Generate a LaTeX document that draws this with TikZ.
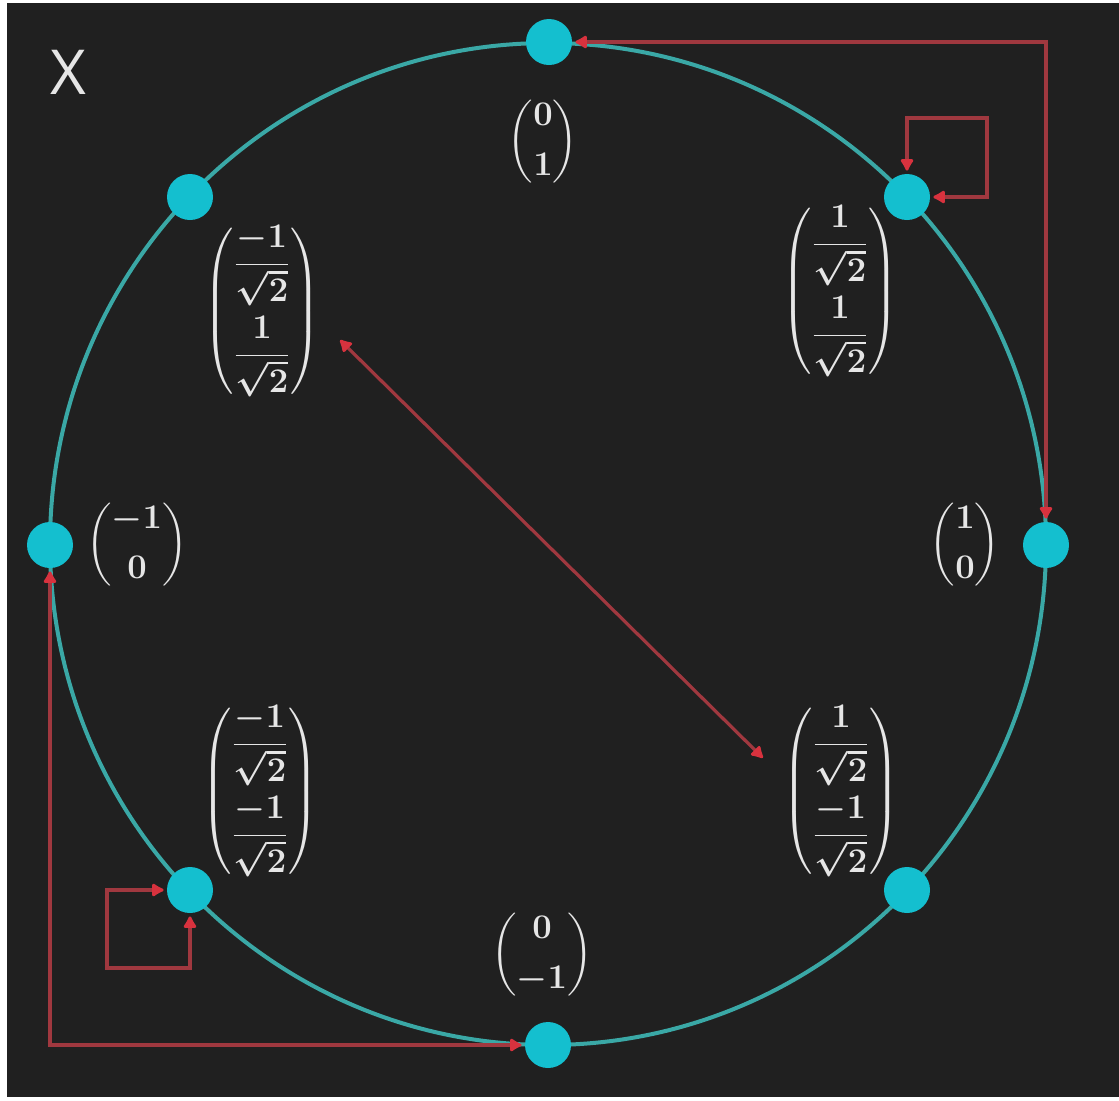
\documentclass[tikz,border=0pt]{standalone}
\usepackage{amsmath}
\usepackage{fontspec}
\usetikzlibrary{arrows.meta}
\newfontfamily\xfont{Open Sans}
\definecolor{bgdark}{HTML}{202020}
\definecolor{ringcol}{HTML}{3AA8A6}
\definecolor{dotcol}{HTML}{14BFCF}
\definecolor{redline}{HTML}{A0383F}
\definecolor{redtip}{HTML}{D8323E}
\definecolor{txtcol}{HTML}{E6E6E6}
\newcommand{\rowgap}{\\ \noalign{\vskip 5pt}}
\begin{document}
\begin{tikzpicture}[x=0.5pt,y=-0.5pt,
  dot/.style={circle,fill=dotcol,draw=none,minimum size=23pt,inner sep=0pt},
  vec/.style={text=txtcol,inner sep=0pt,font=\fontsize{17}{20}\selectfont\boldmath},
  fvec/.style={text=txtcol,inner sep=0pt,font=\fontsize{16.5}{20}\selectfont\boldmath},
  rarr/.style={draw=redline,line width=1.6pt,
    {Latex[length=7pt,width=8pt,round,color=redtip]}-{Latex[length=7pt,width=8pt,round,color=redtip]},
    shorten <=1.5pt,shorten >=1.5pt}]
\fill[white] (0,0) rectangle (1119,1100);
\fill[bgdark] (7,3) rectangle (1119,1097);
\useasboundingbox (0,0) rectangle (1119,1100);

% ring
\draw[ringcol,line width=2pt] (548,544) ellipse [x radius=249pt,y radius=250.5pt];

% dots
\node[dot] (n0) at (549,42) {};
\node[dot] (ntr) at (907,197) {};
\node[dot] (nr) at (1046,545) {};
\node[dot] (nbr) at (907,890) {};
\node[dot] (nb) at (548,1045) {};
\node[dot] (nbl) at (190,890) {};
\node[dot] (nl) at (50,545) {};
\node[dot] (ntl) at (190,197) {};

% title
\node[text=txtcol,font=\xfont\fontsize{31}{36}\selectfont,inner sep=0pt] (title) at (68,72) {X};

% labels
\node[vec] (l0) at (543,142) {$\begin{pmatrix}0\\[5pt]1\end{pmatrix}$};
\node[vec] (lr) at (965,545) {$\begin{pmatrix}1\\[5pt]0\end{pmatrix}$};
\node[vec] (ll) at (137,545) {$\begin{pmatrix}-1\\[5pt]0\end{pmatrix}$};
\node[vec] (lb) at (542,955) {$\begin{pmatrix}0\\[5pt]-1\end{pmatrix}$};
\node[fvec] (ltr) at (840,291) {$\begin{pmatrix}\dfrac{1}{\sqrt{2}}\rowgap\dfrac{1}{\sqrt{2}}\end{pmatrix}$};
\node[fvec] (ltl) at (262,311) {$\begin{pmatrix}\dfrac{-1}{\sqrt{2}}\rowgap\dfrac{1}{\sqrt{2}}\end{pmatrix}$};
\node[fvec] (lbl) at (260,791) {$\begin{pmatrix}\dfrac{-1}{\sqrt{2}}\rowgap\dfrac{-1}{\sqrt{2}}\end{pmatrix}$};
\node[fvec] (lbr) at (841,791) {$\begin{pmatrix}\dfrac{1}{\sqrt{2}}\rowgap\dfrac{-1}{\sqrt{2}}\end{pmatrix}$};

% arrows
\coordinate (ctr) at (987,118);
\coordinate (cbl) at (107,968);
\coordinate (d1) at (338,338);
\coordinate (d2) at (765,760);
\draw[rarr] (n0) -- (nr |- n0) -- (nr);
\draw[rarr] (ntr.north) |- (ctr) |- (ntr.east);
\draw[rarr] (nbl.west) -| (cbl) -| (nbl.south);
\draw[rarr] (nl) |- (nb);
\draw[rarr] (d1) -- (d2);
\end{tikzpicture}
\end{document}
